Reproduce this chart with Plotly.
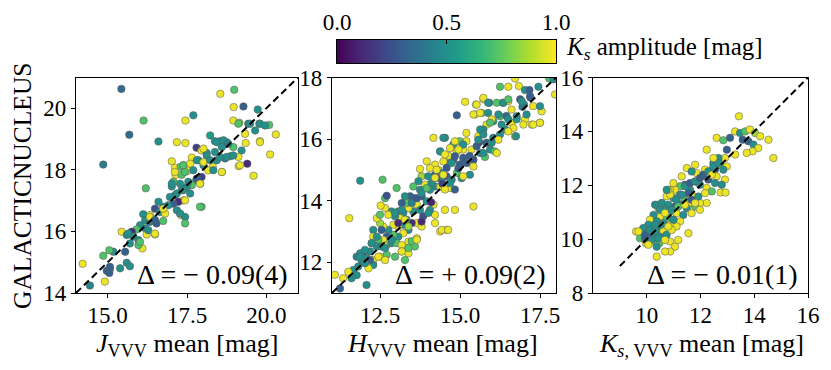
import numpy as np
from plotly import graph_objects as go

# J band: VVV mean vs GALACTICNUCLEUS, colour = Ks amplitude
j_vvv = [15.43, 15.68, 14.86, 16.13, 16.60, 16.20, 17.70, 17.45, 17.18, 17.45,
         18.55, 18.99, 18.97, 19.28, 19.73, 18.96, 19.15, 19.43, 19.78, 20.09,
         20.30, 20.12, 19.80, 19.60, 19.40, 19.13, 18.23, 18.38, 18.54, 18.75,
         18.96, 19.35, 19.22, 17.80, 17.96, 18.12, 17.65, 17.02, 17.12, 17.30,
         17.39, 17.54, 17.14, 17.33, 17.02, 17.86, 18.02, 18.31, 18.44, 18.60,
         18.70, 18.86, 19.12, 18.17, 17.96, 17.79, 17.65, 17.92, 17.49, 17.33,
         17.12, 16.96, 17.39, 17.23, 17.07, 16.91, 16.75, 16.60, 16.49, 16.65,
         16.81, 17.18, 17.31, 17.44, 17.44, 17.96, 16.33, 16.12, 16.18, 16.33,
         16.54, 16.75, 16.02, 16.18, 15.91, 16.49, 16.23, 15.76, 15.44, 15.60,
         15.81, 15.97, 15.70, 16.09, 15.97, 15.55, 15.18, 15.05, 14.86, 15.60,
         15.70, 15.39, 15.07, 14.97, 15.05, 14.91, 14.44, 14.21,
         18.44, 18.65, 18.60, 18.80, 18.02, 18.38, 18.54, 18.75, 18.96, 18.12,
         17.81, 18.02, 18.23, 17.60, 17.38, 17.12, 17.44, 17.70, 18.33, 18.60,
         19.17, 17.28, 17.54, 17.81, 17.07, 17.38, 17.18, 17.60, 17.44, 19.49,
         19.80, 19.96, 19.65, 19.33, 19.12, 19.80, 17.02, 17.91, 16.75, 17.28,
         16.33, 16.49, 15.65, 16.28, 16.49, 16.02, 15.07, 17.91]
j_gns = [20.63, 19.14, 18.17, 19.60, 18.92, 17.40, 19.77, 19.60, 18.90, 18.87,
         20.47, 20.60, 20.04, 20.06, 19.96, 19.60, 19.53, 19.50, 19.50, 19.46,
         19.15, 18.50, 18.93, 17.81, 18.20, 18.12, 19.12, 18.93, 18.93, 18.90,
         18.74, 18.87, 18.63, 18.72, 18.63, 18.55, 18.40, 18.28, 18.07, 18.10,
         18.15, 17.98, 17.84, 17.84, 17.46, 18.31, 18.15, 18.11, 18.31, 17.93,
         18.37, 18.44, 18.42, 17.98, 17.77, 17.66, 17.50, 17.55, 17.44, 17.34,
         17.17, 17.12, 17.01, 16.96, 16.90, 16.85, 16.80, 16.96, 16.74, 16.63,
         16.58, 16.69, 16.53, 16.47, 16.26, 16.80, 16.53, 16.56, 16.36, 16.31,
         16.26, 16.34, 16.20, 16.10, 16.06, 15.90, 15.90, 15.99, 15.99, 15.88,
         15.83, 15.72, 15.61, 15.45, 15.56, 15.34, 15.34, 15.39, 15.21, 14.98,
         14.87, 14.80, 14.78, 14.72, 14.65, 14.37, 14.24, 14.95,
         18.90, 18.96, 18.74, 18.85, 18.69, 18.58, 18.42, 18.42, 18.47, 18.47,
         18.31, 18.25, 18.31, 18.20, 18.15, 17.93, 17.93, 17.99, 17.99, 17.93,
         18.15, 17.55, 17.61, 17.72, 17.61, 17.34, 17.23, 17.23, 17.01, 19.50,
         19.50, 19.44, 19.28, 19.17, 19.50, 18.90, 17.55, 17.55, 16.74, 16.58,
         16.47, 16.37, 15.93, 16.04, 15.93, 15.66, 14.85, 16.80]
j_amp = [0.35, 0.35, 0.42, 0.72, 0.50, 0.72, 0.50, 0.97, 0.97, 0.97,
         0.97, 0.72, 0.97, 0.30, 0.50, 0.97, 0.85, 0.45, 0.50, 0.72,
         0.97, 0.97, 0.97, 0.97, 0.12, 0.97, 0.55, 0.50, 0.50, 0.45,
         0.72, 0.97, 0.50, 0.20, 0.97, 0.50, 0.97, 0.97, 0.97, 0.72,
         0.85, 0.97, 0.97, 0.72, 0.50, 0.50, 0.50, 0.97, 0.50, 0.72,
         0.45, 0.50, 0.97, 0.97, 0.20, 0.50, 0.72, 0.97, 0.50, 0.50,
         0.45, 0.50, 0.97, 0.12, 0.30, 0.50, 0.50, 0.50, 0.25, 0.50,
         0.97, 0.50, 0.97, 0.50, 0.72, 0.72, 0.97, 0.50, 0.50, 0.45,
         0.30, 0.72, 0.50, 0.50, 0.72, 0.97, 0.97, 0.12, 0.97, 0.50,
         0.50, 0.50, 0.50, 0.97, 0.72, 0.30, 0.50, 0.72, 0.72, 0.50,
         0.50, 0.50, 0.50, 0.30, 0.30, 0.97, 0.45, 0.97,
         0.50, 0.50, 0.50, 0.45, 0.97, 0.50, 0.50, 0.50, 0.50, 0.50,
         0.50, 0.97, 0.50, 0.97, 0.72, 0.97, 0.72, 0.50, 0.50, 0.97,
         0.97, 0.50, 0.50, 0.30, 0.72, 0.50, 0.50, 0.50, 0.97, 0.50,
         0.50, 0.50, 0.50, 0.97, 0.72, 0.97, 0.50, 0.97, 0.97, 0.50,
         0.97, 0.30, 0.50, 0.50, 0.97, 0.72, 0.30, 0.72]

# H band
h_vvv = [16.72, 16.25, 16.51, 16.84, 17.03, 17.17, 17.45, 17.79, 17.92, 17.97,
         15.16, 15.50, 15.73, 15.91, 14.90, 15.47, 15.68, 16.15, 16.35, 16.51,
         16.61, 16.88, 17.00, 17.29, 17.55, 17.50, 17.24, 17.03, 16.77, 16.61,
         16.41, 16.72, 16.25, 16.04, 15.83, 15.73, 15.57, 16.25, 16.04, 15.94,
         16.09, 15.20, 15.20, 14.99, 14.79, 14.53, 14.17, 14.90, 15.10, 15.36,
         15.52, 15.63, 15.78, 15.42, 15.21, 15.00, 14.79, 14.64, 14.38, 14.64,
         14.48, 14.22, 14.32, 14.06, 13.96, 13.75, 13.80, 14.01, 14.22, 14.43,
         14.58, 14.74, 14.90, 15.05, 14.69, 14.22, 14.38, 14.06, 13.91, 13.70,
         13.54, 13.75, 13.80, 13.59, 13.44, 13.28, 13.65, 13.96, 14.17, 14.22,
         14.53, 14.84, 14.06, 13.75, 13.85, 13.54, 13.39, 13.33, 13.18, 13.07,
         13.23, 13.13, 12.97, 12.86, 12.76, 13.65, 13.80, 13.49, 13.33, 13.23,
         13.07, 12.92, 14.38, 14.58, 15.42, 13.39, 13.23, 13.07, 12.92, 12.76,
         12.60, 12.50, 12.40, 12.50, 12.66, 12.66, 12.58, 12.71, 11.88, 12.52,
         11.54, 12.29, 12.71, 12.60, 12.45, 12.29, 12.24, 12.40, 12.55, 12.71,
         12.86, 13.02, 13.18, 13.39, 13.18, 13.39, 13.59, 13.65, 12.19, 11.98,
         11.88, 12.08, 11.93, 11.77, 12.29, 12.50, 12.71, 12.29, 12.14, 11.82,
         11.67, 11.51, 11.77, 11.61, 11.35, 12.08, 11.09, 11.25, 13.02, 14.95,
         15.30, 15.60, 14.45, 13.80, 14.10, 16.45, 16.95, 17.20,
         12.97, 13.18, 13.49, 13.65, 13.80, 13.96, 14.11, 14.27, 14.43, 14.58,
         14.74, 12.55, 12.40, 12.24, 12.03, 11.88, 12.45, 12.19, 12.66, 12.87,
         13.28, 13.39, 13.07, 14.01, 14.22, 14.43, 14.63, 13.49, 13.65, 13.18,
         13.39, 13.28, 12.97, 12.66, 12.03,
         15.52, 15.73, 15.88, 16.35, 16.51, 15.42, 15.63, 15.88, 16.20, 15.99,
         15.94, 16.30, 16.51, 16.77, 17.08, 17.29, 17.50, 16.98, 16.67, 16.51,
         16.75, 16.20, 15.63, 15.73, 15.57, 15.83, 15.99, 15.73, 16.15, 14.48,
         14.84, 15.10, 14.69, 14.95, 14.38, 14.53, 14.84, 15.10, 15.00, 15.42,
         15.31, 15.10, 14.27, 14.48, 14.22, 14.69, 14.84, 14.53, 17.19, 16.93,
         17.50]
h_gns = [17.97, 17.70, 17.70, 17.72, 17.59, 17.59, 17.70, 17.97, 17.94, 17.45,
         17.21, 17.12, 17.29, 17.18, 16.77, 16.80, 16.85, 17.18, 17.18, 17.23,
         16.96, 17.29, 17.12, 17.07, 16.90, 16.53, 16.47, 16.64, 16.74, 16.53,
         16.31, 16.09, 16.74, 16.58, 16.47, 16.31, 16.09, 16.15, 16.04, 15.66,
         15.60, 16.20, 15.93, 15.93, 15.82, 16.04, 16.04, 15.60, 15.66, 15.66,
         15.77, 15.55, 15.42, 15.33, 15.22, 15.17, 15.33, 15.22, 15.60, 15.46,
         15.27, 15.17, 15.00, 15.06, 15.28, 15.03, 14.79, 14.79, 14.84, 14.68,
         14.79, 14.68, 14.90, 14.73, 14.41, 14.46, 14.46, 14.35, 14.52, 14.63,
         14.46, 14.35, 14.14, 14.08, 14.14, 14.14, 13.87, 13.98, 13.87, 13.54,
         13.70, 13.70, 13.70, 13.70, 13.49, 13.65, 13.76, 13.92, 13.92, 13.65,
         13.60, 13.43, 13.49, 13.65, 13.54, 13.27, 13.16, 13.27, 13.38, 13.22,
         13.16, 13.22, 13.00, 13.05, 13.81, 13.05, 12.94, 12.83, 12.89, 13.05,
         13.16, 13.27, 13.43, 13.54, 13.76, 14.08, 14.68, 14.16, 14.65, 13.84,
         13.43, 13.05, 12.83, 12.73, 12.73, 12.83, 12.62, 12.51, 12.51, 12.56,
         12.62, 12.62, 12.56, 12.67, 12.35, 12.29, 12.51, 12.78, 12.35, 12.29,
         12.29, 12.13, 12.02, 12.18, 12.07, 12.18, 12.24, 11.91, 11.80, 11.86,
         11.75, 11.69, 11.58, 11.48, 11.48, 11.26, 11.59, 11.15, 14.41, 15.05,
         15.45, 15.90, 14.55, 13.32, 13.95, 16.75, 17.05, 17.35,
         13.60, 13.70, 13.92, 14.08, 14.25, 14.41, 14.57, 14.74, 14.90, 15.06,
         15.22, 13.05, 12.83, 12.62, 12.40, 12.18, 12.18, 12.07, 12.46, 12.73,
         13.38, 13.16, 13.27, 13.60, 13.27, 13.05, 13.05, 12.68, 12.73, 12.35,
         12.46, 12.07, 12.18, 12.07, 11.97,
         17.12, 17.34, 17.18, 17.18, 17.29, 16.80, 16.85, 16.85, 16.80, 16.64,
         16.53, 16.47, 16.64, 16.64, 16.80, 16.47, 16.53, 16.47, 16.36, 16.25,
         16.09, 15.98, 16.31, 16.15, 15.98, 15.88, 15.88, 15.55, 15.55, 16.04,
         15.93, 15.82, 15.71, 15.66, 15.60, 15.50, 15.44, 15.39, 15.17, 15.11,
         14.84, 14.79, 15.00, 14.84, 14.74, 14.57, 14.36, 14.36, 17.39, 17.23,
         17.07]
h_amp = [0.97, 0.72, 0.97, 0.97, 0.50, 0.30, 0.50, 0.72, 0.50, 0.97,
         0.97, 0.97, 0.97, 0.35, 0.30, 0.97, 0.72, 0.72, 0.50, 0.97,
         0.97, 0.30, 0.50, 0.97, 0.97, 0.97, 0.97, 0.97, 0.50, 0.97,
         0.50, 0.97, 0.72, 0.50, 0.97, 0.50, 0.97, 0.50, 0.45, 0.50,
         0.72, 0.97, 0.97, 0.72, 0.50, 0.50, 0.97, 0.97, 0.97, 0.97,
         0.30, 0.50, 0.72, 0.25, 0.30, 0.50, 0.30, 0.50, 0.72, 0.97,
         0.97, 0.97, 0.97, 0.97, 0.97, 0.97, 0.85, 0.50, 0.30, 0.50,
         0.30, 0.50, 0.72, 0.50, 0.97, 0.50, 0.97, 0.50, 0.97, 0.50,
         0.72, 0.50, 0.30, 0.50, 0.30, 0.50, 0.97, 0.50, 0.97, 0.97,
         0.97, 0.97, 0.50, 0.50, 0.25, 0.50, 0.97, 0.72, 0.30, 0.50,
         0.50, 0.97, 0.50, 0.50, 0.97, 0.97, 0.97, 0.12, 0.50, 0.50,
         0.97, 0.97, 0.97, 0.97, 0.97, 0.50, 0.97, 0.50, 0.72, 0.50,
         0.97, 0.85, 0.97, 0.72, 0.97, 0.72, 0.72, 0.25, 0.50, 0.97,
         0.97, 0.50, 0.30, 0.97, 0.72, 0.97, 0.72, 0.50, 0.50, 0.85,
         0.50, 0.72, 0.97, 0.97, 0.97, 0.97, 0.72, 0.97, 0.50, 0.30,
         0.50, 0.50, 0.50, 0.45, 0.97, 0.97, 0.72, 0.50, 0.97, 0.50,
         0.50, 0.97, 0.50, 0.50, 0.97, 0.50, 0.97, 0.30, 0.72, 0.30,
         0.30, 0.25, 0.20, 0.12, 0.10, 0.35, 0.40, 0.30,
         0.50, 0.50, 0.45, 0.28, 0.50, 0.72, 0.50, 0.30, 0.50, 0.28,
         0.50, 0.30, 0.50, 0.50, 0.50, 0.50, 0.97, 0.30, 0.50, 0.50,
         0.97, 0.85, 0.12, 0.50, 0.97, 0.97, 0.97, 0.72, 0.97, 0.97,
         0.72, 0.72, 0.72, 0.97, 0.50,
         0.97, 0.97, 0.50, 0.50, 0.72, 0.97, 0.97, 0.50, 0.50, 0.97,
         0.72, 0.50, 0.50, 0.50, 0.50, 0.97, 0.97, 0.97, 0.97, 0.97,
         0.50, 0.97, 0.50, 0.50, 0.50, 0.30, 0.50, 0.50, 0.97, 0.50,
         0.97, 0.50, 0.97, 0.97, 0.50, 0.97, 0.30, 0.30, 0.30, 0.97,
         0.50, 0.97, 0.97, 0.97, 0.97, 0.50, 0.30, 0.97, 0.30, 0.50,
         0.50]

# Ks band
k_vvv = [13.43, 12.60, 12.85, 13.10, 13.29, 13.47, 13.66, 13.84, 14.03, 14.22,
         14.53, 13.57, 13.78, 13.97, 14.15, 13.94, 13.72, 14.71, 13.29, 12.98,
         12.23, 12.91, 12.67, 12.48, 12.73, 12.98, 12.85, 12.54, 12.35, 12.17,
         12.60, 12.91, 12.79, 12.54, 12.29, 12.04, 11.86, 11.49, 11.80, 11.98,
         12.23, 12.42, 12.75, 12.93, 12.23, 11.98, 11.73, 11.61, 11.42, 11.24,
         11.05, 10.87, 10.74, 11.00, 11.24, 11.42, 11.61, 11.80, 11.49, 11.24,
         11.05, 10.80, 10.56, 10.43, 10.31, 10.62, 10.87, 11.11, 11.36, 11.67,
         11.24, 10.99, 10.74, 10.49, 10.25, 10.12, 10.37, 10.62, 10.87, 11.11,
         10.49, 10.25, 10.06, 9.87, 10.12, 10.37, 10.62, 10.74, 10.93, 11.55,
         10.49, 10.25, 10.06, 9.87, 9.75, 9.60, 9.97, 10.18, 10.47, 10.87,
         11.05, 10.87, 10.68, 10.37, 10.37, 9.94, 11.18, 11.55,
         9.93, 10.12, 10.31, 10.37, 10.56, 10.87, 10.80, 11.11, 11.30, 11.42,
         11.61, 11.80, 11.98, 12.10, 12.29, 12.48, 12.66, 11.80, 11.67, 11.30,
         10.99, 10.74, 10.49, 10.68, 10.93, 11.17, 11.42, 11.67, 11.92, 12.17,
         11.80, 11.98, 10.99, 10.80, 10.31, 10.18, 10.43, 9.69, 10.06, 10.68,
         11.17, 12.48, 12.42]
k_gns = [14.56, 13.76, 13.67, 13.76, 14.00, 13.94, 14.00, 14.07, 13.94, 13.82,
         13.69, 13.69, 13.63, 13.51, 13.38, 13.26, 13.20, 13.01, 13.14, 13.32,
         13.32, 13.01, 13.01, 12.83, 12.76, 12.70, 12.58, 12.58, 12.52, 12.58,
         12.33, 12.21, 12.02, 12.08, 12.21, 12.33, 12.45, 12.64, 12.14, 12.02,
         11.90, 11.77, 11.73, 11.73, 11.34, 11.34, 11.59, 11.83, 12.02, 11.96,
         11.83, 11.83, 11.59, 11.52, 11.65, 11.46, 11.34, 11.21, 11.15, 11.28,
         11.21, 11.28, 11.34, 11.15, 11.28, 11.15, 11.03, 10.96, 10.90, 10.96,
         10.66, 10.72, 10.78, 10.84, 10.90, 10.72, 10.66, 10.59, 10.53, 10.47,
         10.47, 10.47, 10.53, 10.41, 10.28, 10.22, 10.28, 10.16, 10.34, 10.22,
         10.09, 10.03, 10.09, 10.16, 10.03, 10.28, 9.85, 9.91, 9.85, 9.91,
         9.72, 9.54, 9.54, 9.35, 9.72, 10.03, 11.28, 11.71,
         10.16, 10.34, 10.53, 11.27, 11.34, 11.65, 11.83, 11.46, 11.65, 11.96,
         12.08, 12.14, 12.27, 12.39, 12.51, 12.70, 12.83, 12.76, 12.51, 12.33,
         12.08, 11.83, 11.09, 10.97, 11.09, 11.21, 11.27, 11.46, 11.58, 11.71,
         11.34, 11.09, 10.72, 10.47, 10.28, 9.97, 10.03, 10.28, 9.79, 9.97,
         9.97, 13.01, 12.39]
k_amp = [0.97, 0.97, 0.72, 0.30, 0.97, 0.50, 0.72, 0.97, 0.85, 0.97,
         0.97, 0.30, 0.30, 0.50, 0.97, 0.97, 0.97, 0.97, 0.97, 0.30,
         0.97, 0.97, 0.50, 0.50, 0.72, 0.97, 0.50, 0.30, 0.50, 0.97,
         0.97, 0.97, 0.50, 0.50, 0.30, 0.50, 0.97, 0.97, 0.30, 0.50,
         0.97, 0.72, 0.97, 0.97, 0.97, 0.97, 0.97, 0.50, 0.30, 0.72,
         0.97, 0.97, 0.97, 0.50, 0.50, 0.72, 0.97, 0.72, 0.50, 0.50,
         0.30, 0.50, 0.97, 0.97, 0.50, 0.50, 0.72, 0.97, 0.50, 0.97,
         0.97, 0.50, 0.72, 0.97, 0.50, 0.97, 0.50, 0.50, 0.97, 0.97,
         0.50, 0.72, 0.50, 0.50, 0.30, 0.50, 0.97, 0.50, 0.97, 0.97,
         0.50, 0.50, 0.30, 0.50, 0.72, 0.97, 0.97, 0.97, 0.72, 0.97,
         0.97, 0.97, 0.97, 0.97, 0.50, 0.30, 0.50, 0.30,
         0.30, 0.50, 0.50, 0.50, 0.50, 0.97, 0.97, 0.50, 0.50, 0.50,
         0.30, 0.50, 0.30, 0.30, 0.50, 0.50, 0.50, 0.97, 0.50, 0.97,
         0.97, 0.50, 0.50, 0.97, 0.50, 0.72, 0.97, 0.30, 0.50, 0.97,
         0.97, 0.97, 0.50, 0.97, 0.50, 0.50, 0.50, 0.97, 0.97, 0.97,
         0.97, 0.97, 0.97]

# one-to-one lines
diag_j = [14, 21]
diag_h = [11, 18]
diag_k = [9, 16]

delta_labels = ["Δ = − 0.09(4)", "Δ = + 0.09(2)", "Δ = − 0.01(1)"]
x_titles = ["<i>J</i><sub>VVV</sub> mean [mag]",
            "<i>H</i><sub>VVV</sub> mean [mag]",
            "<i>K</i><sub><i>s</i>, VVV</sub> mean [mag]"]

FONT = "Liberation Serif"
W, H = 831, 370


def px_x(p):
    return p / W


def px_y(p):
    return 1 - p / H


fig = go.Figure()

panels = [(j_vvv, j_gns, j_amp, diag_j), (h_vvv, h_gns, h_amp, diag_h), (k_vvv, k_gns, k_amp, diag_k)]
for i, (xv, yv, amp, diag) in enumerate(panels):
    ax = "" if i == 0 else str(i + 1)
    fig.add_trace(go.Scatter(x=xv, y=yv, mode="markers", xaxis="x" + ax, yaxis="y" + ax,
                             marker=dict(size=7.5, color=amp, colorscale="Viridis", cmin=0, cmax=1,
                                         line=dict(color="rgba(90,90,90,0.75)", width=0.7)),
                             showlegend=False, hoverinfo="skip"))
    fig.add_trace(go.Scatter(x=diag, y=diag, mode="lines", xaxis="x" + ax, yaxis="y" + ax,
                             line=dict(color="black", width=2, dash="7px,4px"),
                             showlegend=False, hoverinfo="skip"))

# colour bar drawn as its own strip so the labels can sit on top
cb = np.linspace(0, 1, 256)
fig.add_trace(go.Heatmap(x=cb, y=[0], z=[cb], colorscale="Viridis", zmin=0, zmax=1,
                         showscale=False, xaxis="x4", yaxis="y4", hoverinfo="skip"))

tick_font = dict(family=FONT, size=23, color="black")


def axis(domain, rng, vals, text, anchor, **kw):
    d = dict(domain=domain, range=rng, tickvals=vals, ticktext=text, anchor=anchor,
             showline=True, linecolor="black", linewidth=1.2, mirror=True,
             ticks="outside", ticklen=4, tickcolor="black", showgrid=False,
             zeroline=False, tickfont=tick_font, fixedrange=True, automargin=False)
    d.update(kw)
    return d


ydom = [px_y(293), px_y(77.5)]
fig.update_layout(
    template="none",
    font=dict(family=FONT, color="black"),
    width=W, height=H, margin=dict(l=0, r=0, t=0, b=0),
    paper_bgcolor="white", plot_bgcolor="white",
    xaxis=axis([px_x(76), px_x(298)], [14, 21], [15, 17.5, 20], ["15.0", "17.5", "20.0"], "y",
               ticklabelstandoff=-3),
    yaxis=axis(ydom, [14, 21], [14, 16, 18, 20], ["14", "16", "18", "20"], "x"),
    xaxis2=axis([px_x(332), px_x(556)], [11, 18], [12.5, 15, 17.5], ["12.5", "15.0", "17.5"], "y2",
                ticklabelstandoff=-3),
    yaxis2=axis(ydom, [11, 18], [12, 14, 16, 18], ["12", "14", "16", "18"], "x2"),
    xaxis3=axis([px_x(593), px_x(808)], [8, 16], [10, 12, 14, 16], ["10", "12", "14", "16"], "y3",
                ticklabelstandoff=-3),
    yaxis3=axis(ydom, [8, 16], [8, 10, 12, 14, 16], ["8", "10", "12", "14", "16"], "x3"),
    xaxis4=axis([px_x(337), px_x(556)], [0, 1], [0, 0.5, 1], ["0.0", "0.5", "1.0"], "y4",
                side="top", ticks="inside"),
    yaxis4=axis([px_y(63), px_y(40)], [-0.5, 0.5], [], [], "x4", ticks=""),
)

ann = []
for i, lab in enumerate(delta_labels):
    ax = "" if i == 0 else str(i + 1)
    ann.append(dict(text=lab, xref="x" + ax + " domain", yref="y" + ax + " domain",
                    x=0.965, y=0.005, xanchor="right", yanchor="bottom", showarrow=False,
                    font=dict(family=FONT, size=28, color="black")))

for cx, t in zip([187, 443, 701], x_titles):
    ann.append(dict(text=t, xref="paper", yref="paper", x=px_x(cx), y=px_y(345),
                    xanchor="center", yanchor="middle", showarrow=False,
                    font=dict(family=FONT, size=26, color="black")))

ann.append(dict(text="GALACTICNUCLEUS", xref="paper", yref="paper", x=px_x(22), y=px_y(186),
                textangle=-90, xanchor="center", yanchor="middle", showarrow=False,
                font=dict(family=FONT, size=25.5, color="black")))
ann.append(dict(text="<i>K</i><sub><i>s</i></sub> amplitude [mag]", xref="paper", yref="paper",
                x=px_x(564), y=px_y(48), xanchor="left", yanchor="middle", showarrow=False,
                font=dict(family=FONT, size=25, color="black")))
fig.update_layout(annotations=ann)

# drop the default page margin so the figure sits at the window's top-left corner
fig.write_html("out.html", config={"displayModeBar": False},
               post_script="document.body.style.margin='0';")
